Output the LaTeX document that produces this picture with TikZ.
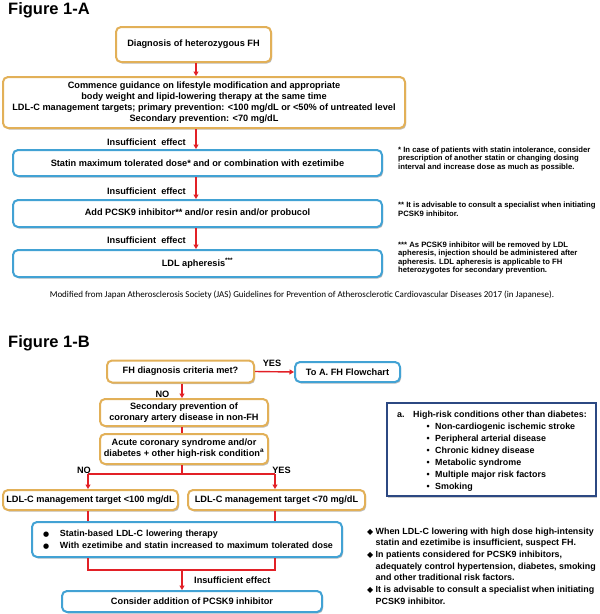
\documentclass[tikz,border=0pt]{standalone}
\usepackage{fontspec}
\setmainfont{Liberation Sans}
\newfontfamily\calfont{Carlito}
\newfontfamily\djv{DejaVu Sans}
\usetikzlibrary{arrows.meta,shadows}
\definecolor{orC}{RGB}{226,176,88}
\definecolor{blC}{RGB}{66,162,212}
\definecolor{nvC}{RGB}{44,72,130}
\definecolor{rdC}{RGB}{226,32,38}
\begin{document}
\begin{tikzpicture}[x=1pt,y=-1pt,
  every node/.style={inner sep=0pt, font=\bfseries\fontsize{9.2}{10.8}\selectfont},
  base/.style={rectangle, rounded corners=5pt, line width=2pt, fill=white,
    drop shadow={shadow xshift=1.2pt, shadow yshift=-1.5pt, fill=black, opacity=0.25}},
  obox/.style={base, draw=orC},
  bbox/.style={base, draw=blC},
  arr/.style={draw=rdC, line width=1.4pt, -{Triangle[length=4.5pt,width=5pt]}},
  ln/.style={draw=rdC, line width=1.4pt},
  ttl/.style={anchor=base west, font=\bfseries\fontsize{16.5}{18}\selectfont},
  fnA/.style={anchor=north west, align=left, font=\bfseries\fontsize{7.7}{8.3}\selectfont},
  fnB/.style={anchor=north west, align=left, font=\bfseries\fontsize{8.9}{11.7}\selectfont},
]
\useasboundingbox (0,0) rectangle (600,614);

% ---------------- Figure 1-A ----------------
\node[ttl] (tA) at (8,14) {Figure 1-A};
\node[obox, minimum width=155pt, minimum height=35pt] (A1) at (193.5,44.5) {Diagnosis of heterozygous FH};
\node[obox, minimum width=402pt, minimum height=51pt, align=center] (A2) at (204,102.5)
  {Commence guidance on lifestyle modification and appropriate\\
   body weight and lipid-lowering therapy at the same time\\
   LDL-C management targets; primary prevention: <100 mg/dL or <50\% of untreated level\\
   Secondary prevention: <70 mg/dL};
\node[bbox, minimum width=369pt, minimum height=26pt] (A3) at (197.5,163) {Statin maximum tolerated dose* and or combination with ezetimibe};
\node[bbox, minimum width=369pt, minimum height=27pt] (A4) at (197.5,213.5) {Add PCSK9 inhibitor** and/or resin and/or probucol};
\node[bbox, minimum width=369pt, minimum height=27pt] (A5) at (197.5,263.5) {LDL apheresis\textsuperscript{***}};

\coordinate (cA) at (196,0);
\draw[arr] (A1.south -| cA) -- (A2.north -| cA);
\draw[arr] (A2.south -| cA) -- (A3.north -| cA);
\draw[arr] (A3.south -| cA) -- (A4.north -| cA);
\draw[arr] (A4.south -| cA) -- (A5.north -| cA);

\node[anchor=base east] (iA1) at (186,145) {Insufficient\ \ effect};
\node[anchor=base east] (iA2) at (186,194) {Insufficient\ \ effect};
\node[anchor=base east] (iA3) at (186,243) {Insufficient\ \ effect};

\node[fnA] (nA1) at (398,146.9) {* In case of patients with statin intolerance, consider\\
  prescription of another statin or changing dosing\\
  interval and increase dose as much as possible.};
\node[fnA] (nA2) at (398,202.1) {** It is advisable to consult a specialist when initiating\\
  PCSK9 inhibitor.};
\node[fnA] (nA3) at (398,241.7) {*** As PCSK9 inhibitor will be removed by LDL\\
  apheresis, injection should be administered after\\
  apheresis. LDL apheresis is applicable to FH\\
  heterozygotes for secondary prevention.};

\node[anchor=base, font=\calfont\fontsize{9}{10}\selectfont] (mod) at (302,297)
  {Modified from Japan Atherosclerosis Society (JAS) Guidelines for Prevention of Atherosclerotic Cardiovascular Diseases 2017 (in Japanese).};

% ---------------- Figure 1-B ----------------
\node[ttl] (tB) at (8,347) {Figure 1-B};
\node[obox, minimum width=147pt, minimum height=22pt] (B1) at (180.5,371.5) {FH diagnosis criteria met?};
\node[bbox, minimum width=105pt, minimum height=20pt] (B2) at (347.5,372) {To A. FH Flowchart};
\node[obox, minimum width=168pt, minimum height=27pt, align=center] (B3) at (184,412.5)
  {Secondary prevention of\\coronary artery disease in non-FH};
\node[obox, minimum width=168pt, minimum height=30pt, align=center] (B4) at (184,449)
  {Acute coronary syndrome and/or\\diabetes + other high-risk condition\textsuperscript{a}};
\node[obox, minimum width=175pt, minimum height=20pt] (B5) at (90.5,500) {LDL-C management target <100 mg/dL};
\node[obox, minimum width=177pt, minimum height=20pt] (B6) at (276.5,500) {LDL-C management target <70 mg/dL};
\node[bbox, minimum width=310pt, minimum height=35pt, inner xsep=5pt, text width=300pt, align=left,
      font=\bfseries\fontsize{8.9}{11.5}\selectfont] (B7) at (187,539.5)
  {\hspace*{6pt}\makebox[17pt][l]{\djv\fontsize{7}{8}\selectfont ●}Statin-based LDL-C lowering therapy\\
   \hspace*{6pt}\makebox[17pt][l]{\djv\fontsize{7}{8}\selectfont ●}With ezetimibe and statin increased to maximum tolerated dose};
\node[bbox, minimum width=260pt, minimum height=21pt] (B8) at (192,601.5) {Consider addition of PCSK9 inhibitor};

\node[rectangle, draw=nvC, line width=2.5pt, fill=white, minimum width=209pt, minimum height=93pt,
      drop shadow={shadow xshift=1.2pt, shadow yshift=-1.5pt, fill=black, opacity=0.2}] (HR) at (491.5,449.5) {};
\node[anchor=north west, align=left, font=\bfseries\fontsize{8.9}{12}\selectfont] (HRt) at (397,410.8)
  {\makebox[16pt][l]{a.}High-risk conditions other than diabetes:\\
   \hspace*{29.5pt}\makebox[8.5pt][l]{•}Non-cardiogenic ischemic stroke\\
   \hspace*{29.5pt}\makebox[8.5pt][l]{•}Peripheral arterial disease\\
   \hspace*{29.5pt}\makebox[8.5pt][l]{•}Chronic kidney disease\\
   \hspace*{29.5pt}\makebox[8.5pt][l]{•}Metabolic syndrome\\
   \hspace*{29.5pt}\makebox[8.5pt][l]{•}Multiple major risk factors\\
   \hspace*{29.5pt}\makebox[8.5pt][l]{•}Smoking};

\coordinate (jC) at (182,474);
\coordinate (jL) at (88,474);
\coordinate (jR) at (275,474);
\coordinate (kL) at (88,570);
\coordinate (kR) at (275,570);
\coordinate (kC) at (182,570);

\draw[arr] (B1.east) -- (B2.west);
\node[anchor=base] (yes1) at (272,366.5) {YES};
\draw[arr] (B1.south -| jC) -- (B3.north -| jC);
\node[anchor=base] (no1) at (162.5,397) {NO};
\draw[ln] (B3.south -| jC) -- (B4.north -| jC);
\draw[ln] (B4.south -| jC) -- (jC);
\draw[ln] (jL) -- (jR);
\draw[arr] (jL) -- (jL |- B5.north);
\draw[arr] (jR) -- (jR |- B6.north);
\node[anchor=base] (no2) at (84,473) {NO};
\node[anchor=base] (yes2) at (281.5,473) {YES};
\draw[ln] (jL |- B5.south) -- (jL |- B7.north);
\draw[ln] (jR |- B6.south) -- (jR |- B7.north);
\draw[ln] (kL |- B7.south) -- (kL) -- (kR) -- (kR |- B7.south);
\draw[arr] (kC) -- (kC |- B8.north);
\node[anchor=base west] (iB) at (194,583.5) {Insufficient effect};

\node[fnB] (nB) at (367,527.5)
  {\makebox[8.5pt][l]{\djv\fontsize{8}{8}\selectfont ◆}When LDL-C lowering with high dose high-intensity\\
   \hspace*{8.5pt}statin and ezetimibe is insufficient, suspect FH.\\
   \makebox[8.5pt][l]{\djv\fontsize{8}{8}\selectfont ◆}In patients considered for PCSK9 inhibitors,\\
   \hspace*{8.5pt}adequately control hypertension, diabetes, smoking\\
   \hspace*{8.5pt}and other traditional risk factors.\\
   \makebox[8.5pt][l]{\djv\fontsize{8}{8}\selectfont ◆}It is advisable to consult a specialist when initiating\\
   \hspace*{8.5pt}PCSK9 inhibitor.};
\end{tikzpicture}
\end{document}
